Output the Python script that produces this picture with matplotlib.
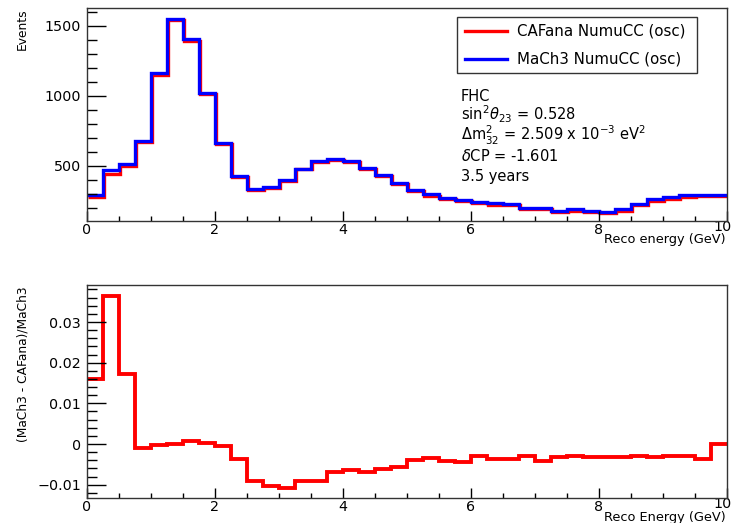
import numpy as np
import matplotlib
matplotlib.use("Agg")
import matplotlib.pyplot as plt
from matplotlib.transforms import offset_copy, ScaledTranslation
from matplotlib.patches import Rectangle
from matplotlib.lines import Line2D
from matplotlib.ticker import MultipleLocator, FixedLocator

plt.rcParams['font.family'] = ['DejaVu Sans']
plt.rcParams['mathtext.fontset'] = 'dejavusans'

# ---------------- data ----------------
bin_edges = np.arange(0.0, 10.0 + 1e-9, 0.25)

mach3_events = [290, 470, 515, 680, 1160, 1550, 1405, 1020, 665, 430,
                335, 350, 400, 480, 535, 548, 532, 481, 436, 380,
                330, 296, 272, 255, 241, 231, 226, 200, 200, 179,
                189, 179, 171, 189, 226, 260, 274, 288, 291, 291]

cafana_events = [285, 453, 506, 681, 1160, 1550, 1404, 1020, 665, 432,
                 338, 354, 404, 484, 540, 552, 535, 484, 439, 382,
                 331, 297, 273, 256, 242, 232, 227, 201, 201, 180,
                 190, 180, 172, 190, 227, 261, 275, 289, 292, 291]

rel_diff = [0.0160, 0.0364, 0.0171, -0.0009, -0.0003, 0.0001, 0.0007, 0.0002, -0.0006, -0.0038,
            -0.0092, -0.0103, -0.0109, -0.0091, -0.0091, -0.0070, -0.0064, -0.0068, -0.0062, -0.0056,
            -0.0039, -0.0035, -0.0042, -0.0045, -0.0029, -0.0038, -0.0038, -0.0029, -0.0042, -0.0033,
            -0.0029, -0.0033, -0.0033, -0.0033, -0.0029, -0.0033, -0.0029, -0.0029, -0.0037, 0.0000]

legend_labels = ["CAFana NumuCC (osc)", "MaCh3 NumuCC (osc)"]
info_lines = ["FHC",
              r"sin$^{2}\theta_{23}$ = 0.528",
              r"$\Delta$m$^{2}_{32}$ = 2.509 x 10$^{-3}$ eV$^{2}$",
              r"$\delta$CP = -1.601",
              "3.5 years"]

top_xticks = [0, 2, 4, 6, 8, 10]
bot_yticks = [-0.01, 0.0, 0.01, 0.02, 0.03]
bot_yticklabels = ["\u22120.01", "0", "0.01", "0.02", "0.03"]

# ---------------- figure ----------------
W, H = 734, 523
fig = plt.figure(figsize=(W / 100, H / 100), dpi=100)

def fx(x):
    return x / W

def fy(y):
    return 1 - y / H

L, R = 86.7, 726.7
ax1 = fig.add_axes([fx(L), fy(221), fx(R) - fx(L), fy(8.3) - fy(221)])
ax2 = fig.add_axes([fx(L), fy(498.3), fx(R) - fx(L), fy(285) - fy(498.3)])

tick_fs = 10.3
for ax in (ax1, ax2):
    ax.set_xlim(0, 10)
    ax.xaxis.set_major_locator(FixedLocator(top_xticks))
    ax.xaxis.set_minor_locator(MultipleLocator(0.5))
    ax.tick_params(axis='both', which='both', direction='in', top=False, right=False,
                   labelsize=tick_fs, width=1.0, colors='black')
    ax.tick_params(axis='x', which='major', length=7, pad=1.5)
    ax.tick_params(axis='x', which='minor', length=3.5)
    ax.tick_params(axis='y', which='major', length=19 * 0.72, pad=4)
    ax.tick_params(axis='y', which='minor', length=9.5 * 0.72)
    for s in ax.spines.values():
        s.set_linewidth(1.0)
        s.set_color('#333333')

# top panel
ax1.set_ylim(105, 1625)
ax1.yaxis.set_major_locator(MultipleLocator(500))
ax1.yaxis.set_minor_locator(MultipleLocator(100))
red_tr = offset_copy(ax1.transData, fig=fig, x=1.5, y=-1.5, units='dots')
ax1.stairs(cafana_events, bin_edges, baseline=None, color='#ff0000', linewidth=2.4,
           transform=red_tr)
ax1.stairs(mach3_events, bin_edges, baseline=None, color='#0000ff', linewidth=2.4)

# bottom panel
ax2.set_ylim(-0.01335, 0.0391)
ax2.yaxis.set_major_locator(FixedLocator(bot_yticks))
ax2.set_yticklabels(bot_yticklabels)
ax2.yaxis.set_minor_locator(MultipleLocator(0.002))
ax2.stairs(rel_diff, bin_edges, baseline=None, color='#ff0000', linewidth=2.8)

# nudge the last x tick label ("10") slightly left/up, as ROOT does at the axis end
fig.canvas.draw()
for ax in (ax1, ax2):
    lbl = ax.get_xticklabels()[-1]
    lbl.set_transform(lbl.get_transform() + ScaledTranslation(-4 / 100, 3 / 100, fig.dpi_scale_trans))

# axis titles
lab_fs = 8.8
fig.text(fx(22), fy(8.5), "Events", rotation=90, ha='center', va='top', fontsize=lab_fs)
fig.text(fx(23), fy(286), "(MaCh3 - CAFana)/MaCh3", rotation=90, ha='center', va='top',
         fontsize=lab_fs)
fig.text(fx(725.5), fy(243.5), "Reco energy (GeV)", ha='right', va='baseline', fontsize=9.3)
fig.text(fx(725.5), fy(521.5), "Reco Energy (GeV)", ha='right', va='baseline', fontsize=9.3)

# legend (drawn manually, ROOT style)
fig.add_artist(Rectangle((fx(456.7), fy(72.7)), fx(696.7) - fx(456.7), fy(16.7) - fy(72.7),
                         transform=fig.transFigure, facecolor='white', edgecolor='#333333',
                         linewidth=1.0, zorder=5))
leg_colors = ['#ff0000', '#0000ff']
leg_y = [30.7, 59.3]
for lab, col, yy in zip(legend_labels, leg_colors, leg_y):
    fig.add_artist(Line2D([fx(465), fx(507)], [fy(yy), fy(yy)], transform=fig.transFigure,
                          color=col, linewidth=2.4, zorder=6))
    fig.text(fx(517), fy(yy), lab, ha='left', va='center', fontsize=10.8, zorder=6)

# info text
info_base = [101, 120.7, 140.3, 160.7, 181.5]
for txt, yb in zip(info_lines, info_base):
    fig.text(fx(461), fy(yb), txt, ha='left', va='baseline', fontsize=10.5)

fig.savefig("out.png", dpi=100)
